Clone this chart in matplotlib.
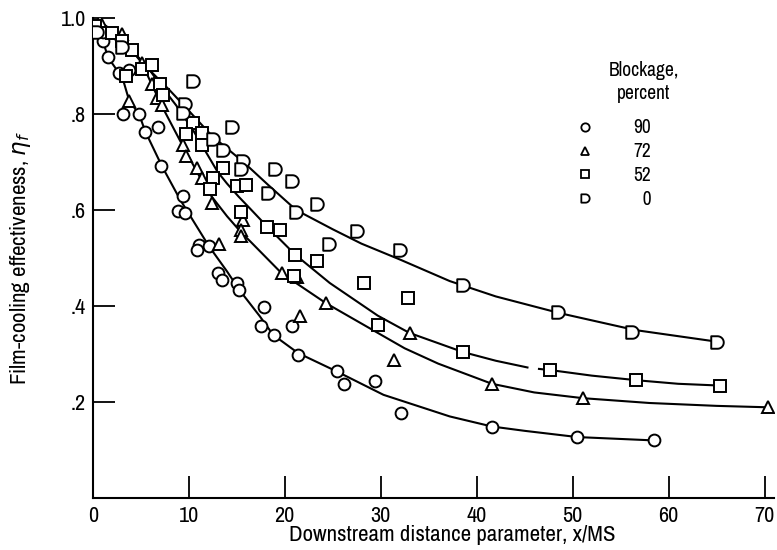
import numpy as np
import matplotlib
matplotlib.use("Agg")
from matplotlib import pyplot as plt
from matplotlib import font_manager as fm
from matplotlib.path import Path
from matplotlib.lines import Line2D

# look for a narrow / condensed face, the original lettering is condensed
narrow = sorted({f.name for f in fm.fontManager.ttflist
                 if 'Narrow' in f.name or 'Condensed' in f.name})
cond = [f for f in fm.fontManager.ttflist if str(f.stretch) in ('condensed', 'semi-condensed', '75', '87.5')]
if narrow:
    plt.rcParams['font.family'] = [narrow[0], 'DejaVu Sans']
elif cond:
    plt.rcParams['font.family'] = [cond[0].name, 'DejaVu Sans']
    plt.rcParams['font.stretch'] = 'condensed'
else:
    plt.rcParams['font.family'] = ['Roboto', 'DejaVu Sans']

# measured points, blockage 90 / 72 / 52 / 0 percent
x90 = [1.04, 1.1, 1.63, 2.77, 3.81, 3.19, 4.85, 5.5, 6.83, 7.15, 9.44, 8.92, 9.61, 11.1, 10.83,
       12.11, 13.08, 13.44, 15.06, 15.24, 17.88, 17.5, 18.89, 20.73, 21.42, 25.42, 26.2, 29.4,
       32.08, 41.6, 50.5, 58.5]
y90 = [0.953, 0.97, 0.918, 0.885, 0.892, 0.800, 0.800, 0.763, 0.772, 0.692, 0.629, 0.598, 0.593,
       0.528, 0.516, 0.525, 0.469, 0.455, 0.449, 0.433, 0.397, 0.359, 0.340, 0.359, 0.299, 0.264,
       0.237, 0.243, 0.178, 0.149, 0.127, 0.120]

x72 = [0.76, 3.02, 5.1, 6.15, 6.67, 7.19, 3.81, 9.38, 9.72, 10.83, 11.35, 12.43, 13.16, 15.63,
       15.42, 15.42, 19.69, 21.25, 24.3, 21.6, 31.42, 33.05, 41.63, 51.1, 70.38]
y72 = [0.994, 0.967, 0.907, 0.862, 0.834, 0.819, 0.827, 0.735, 0.713, 0.688, 0.667, 0.615, 0.530,
       0.579, 0.558, 0.545, 0.468, 0.461, 0.406, 0.379, 0.288, 0.344, 0.238, 0.208, 0.189]

x52 = [0.24, 2.06, 3.02, 4.06, 3.5, 5.1, 6.15, 7.0, 7.35, 10.48, 9.72, 11.35, 11.35, 13.6, 12.5,
       12.22, 15.06, 15.94, 15.42, 18.19, 19.51, 21.07, 23.4, 20.97, 28.26, 32.88, 29.75, 38.6,
       47.64, 56.56, 65.34]
y52 = [0.984, 0.968, 0.953, 0.934, 0.880, 0.894, 0.902, 0.862, 0.840, 0.782, 0.758, 0.761, 0.735,
       0.688, 0.667, 0.643, 0.651, 0.653, 0.596, 0.565, 0.558, 0.507, 0.493, 0.463, 0.448, 0.417,
       0.361, 0.304, 0.266, 0.245, 0.234]

x0 = [0.4, 3.02, 10.48, 9.6, 9.44, 14.48, 12.56, 13.6, 15.69, 15.42, 18.99, 20.81, 18.29, 21.15,
      23.33, 27.56, 24.61, 32.0, 38.54, 48.44, 56.21, 65.0]
y0 = [0.970, 0.939, 0.869, 0.820, 0.803, 0.772, 0.749, 0.725, 0.702, 0.686, 0.686, 0.660, 0.636,
      0.596, 0.612, 0.557, 0.530, 0.516, 0.444, 0.387, 0.346, 0.325]

# faired curves
c90_x = [0.4, 1.05, 1.6, 2.75, 3.2, 3.8, 4.85, 5.45, 7.2, 9.1, 12.1, 14.0, 15.3, 17.4, 18.8, 21.4,
         25.4, 30.3, 37.2, 41.6, 45.0, 50.5, 58.5]
c90_y = [0.99, 0.953, 0.918, 0.885, 0.869, 0.828, 0.799, 0.765, 0.692, 0.622, 0.525, 0.472, 0.433,
         0.379, 0.34, 0.302, 0.264, 0.215, 0.17, 0.149, 0.14, 0.127, 0.12]

c72_x = [0.6, 3.0, 5.1, 6.15, 7.2, 9.35, 11.35, 12.4, 14.0, 15.4, 16.4, 19.7, 24.3, 27.0, 32.5,
         36.0, 41.6, 46.0, 51.1, 58.0, 65.0, 70.4]
c72_y = [0.995, 0.96, 0.907, 0.862, 0.817, 0.735, 0.662, 0.628, 0.587, 0.555, 0.535, 0.468, 0.406,
         0.375, 0.312, 0.28, 0.238, 0.22, 0.208, 0.198, 0.192, 0.189]

c52a_x = [0.6, 2.0, 4.0, 6.0, 7.0, 8.7, 10.5, 13.0, 14.0, 15.2, 16.4, 18.2, 21.1, 24.7, 29.7, 33.0,
          38.6, 42.0, 45.3]
c52a_y = [0.99, 0.968, 0.935, 0.89, 0.862, 0.818, 0.765, 0.68, 0.655, 0.628, 0.603, 0.565, 0.507,
          0.448, 0.38, 0.344, 0.304, 0.286, 0.272]
c52b_x = [46.5, 47.9, 52.0, 56.9, 61.0, 65.7]
c52b_y = [0.269, 0.266, 0.255, 0.245, 0.238, 0.234]

c0_x = [0.5, 2.0, 4.0, 6.0, 8.0, 9.5, 12.4, 15.7, 18.3, 21.2, 25.0, 28.0, 32.0, 37.2, 42.0, 48.7,
        56.5, 65.3]
c0_y = [0.99, 0.968, 0.935, 0.89, 0.85, 0.818, 0.755, 0.700, 0.652, 0.600, 0.56, 0.53, 0.497, 0.452,
        0.42, 0.385, 0.35, 0.325]

legend_labels = ['90', '72', '52', '  0']
x_ticks = [0, 10, 20, 30, 40, 50, 60, 70]
y_ticks = [0.2, 0.4, 0.6, 0.8, 1.0]
y_ticklabels = ['.2', '.4', '.6', '.8', '1.0']

# "D" shaped marker
t = np.linspace(np.pi / 2, -np.pi / 2, 30)
dverts = [(-0.5, -0.5), (-0.5, 0.5), (0.0, 0.5)] + list(zip(0.5 * np.cos(t), 0.5 * np.sin(t))) + [(-0.5, -0.5)]
dcodes = [Path.MOVETO] + [Path.LINETO] * (len(dverts) - 2) + [Path.CLOSEPOLY]
dmark = Path(dverts, dcodes)

fig = plt.figure(figsize=(7.77, 5.5), dpi=100)
ax = fig.add_axes([0.1193, 0.0945, 0.877, 0.8727])

lw = 1.5
for cx, cy in [(c90_x, c90_y), (c72_x, c72_y), (c52a_x, c52a_y), (c52b_x, c52b_y), (c0_x, c0_y)]:
    ax.plot(cx, cy, color='black', lw=lw, zorder=2)

mk = dict(ls='none', mfc='white', mec='black', mew=1.4, zorder=3)
ax.plot(x90, y90, marker='o', ms=8.5, **mk)
ax.plot(x72, y72, marker='^', ms=8.5, **mk)
ax.plot(x52, y52, marker='s', ms=8, **mk)
ax.plot(x0, y0, marker=dmark, ms=9, **mk)

ax.set_xlim(0, 71)
ax.set_ylim(0, 1.0)
ax.set_xticks(x_ticks)
ax.set_yticks(y_ticks)
ax.set_yticklabels(y_ticklabels)
ax.tick_params(direction='in', length=16, width=1.3, labelsize=16, pad=5)
ax.tick_params(axis='x', pad=6)
for s in ['top', 'right']:
    ax.spines[s].set_visible(False)
for s in ['left', 'bottom']:
    ax.spines[s].set_linewidth(1.5)

ax.set_xlabel('Downstream distance parameter, x/MS', fontsize=16.5)
ax.set_ylabel(r'Film-cooling effectiveness, $\eta_f$', fontsize=16.5)
ax.xaxis.set_label_coords(0.527, -0.056)
ax.yaxis.set_label_coords(-0.088, 0.5)

handles = [Line2D([], [], marker=m, ms=6, mfc='white', mec='black', mew=1.3, ls='none')
           for m in ['o', '^', 's', dmark]]
ax.legend(handles, legend_labels, loc='upper left', bbox_to_anchor=(0.694, 0.811), frameon=False,
          fontsize=14, handletextpad=2.0, labelspacing=0.25, handlelength=1.0, borderpad=0)
ax.text(0.809, 0.866, 'Blockage,\npercent', transform=ax.transAxes, ha='center', va='center',
        fontsize=14, linespacing=1.25)

fig.savefig('out.png', dpi=100)
